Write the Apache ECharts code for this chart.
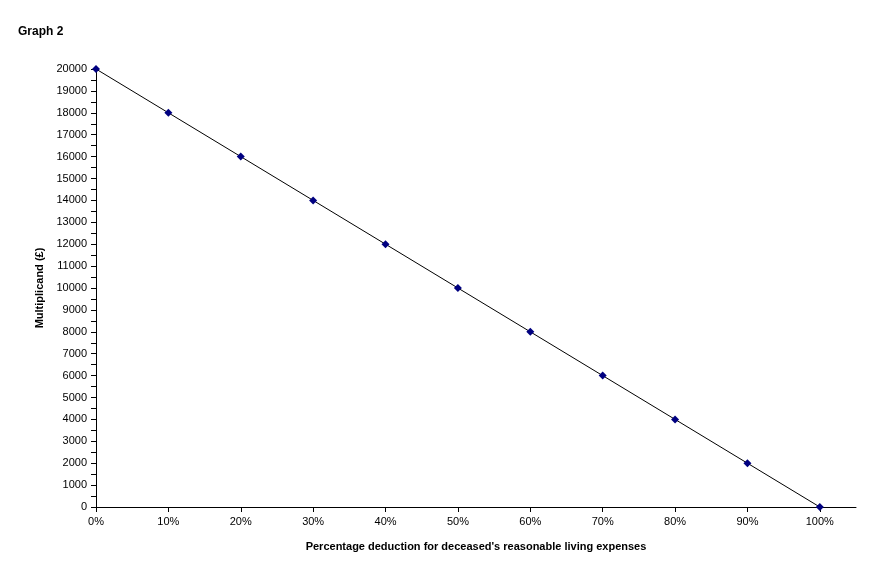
<!DOCTYPE html>
<html>
<head>
<meta charset="utf-8">
<script src="https://cdn.jsdelivr.net/npm/echarts@6/dist/echarts.min.js"></script>
<style>html,body{margin:0;padding:0;background:#fff;}#c{width:880px;height:564px;}</style>
</head>
<body>
<div id="c"></div>
<script>
const deductions = [0, 0.1, 0.2, 0.3, 0.4, 0.5, 0.6, 0.7, 0.8, 0.9, 1.0];
const multiplicand = [20000, 18000, 16000, 14000, 12000, 10000, 8000, 6000, 4000, 2000, 0];
const xTicks = [0, 0.1, 0.2, 0.3, 0.4, 0.5, 0.6, 0.7, 0.8, 0.9, 1.0];
const yLabels = [0,1000,2000,3000,4000,5000,6000,7000,8000,9000,10000,11000,12000,13000,14000,15000,16000,17000,18000,19000,20000];
const yTicks = [0,500,1000,1500,2000,2500,3000,3500,4000,4500,5000,5500,6000,6500,7000,7500,8000,8500,9000,9500,10000,10500,11000,11500,12000,12500,13000,13500,14000,14500,15000,15500,16000,16500,17000,17500,18000,18500,19000,19500,20000];

const font = 'Arial, "Liberation Sans", sans-serif';
const chart = echarts.init(document.getElementById('c'));
chart.setOption({
  animation: false,
  backgroundColor: '#fff',
  title: {
    text: 'Graph 2', left: 13, top: 21,
    textStyle: { fontFamily: font, fontSize: 12, fontWeight: 'bold', color: '#000' }
  },
  grid: { left: 96, right: 24, top: 69, bottom: 57 },
  xAxis: {
    type: 'value', min: 0, max: 1.05,
    name: "Percentage deduction for deceased's reasonable living expenses",
    nameLocation: 'middle', nameGap: 34,
    nameTextStyle: { fontFamily: font, fontSize: 11, fontWeight: 'bold', color: '#000' },
    axisLine: { show: true, onZero: false, lineStyle: { color: '#000', width: 1 } },
    axisTick: { show: true, length: 5, lineStyle: { color: '#000' }, customValues: xTicks },
    axisLabel: { fontFamily: font, fontSize: 11, color: '#000', margin: 9,
      customValues: xTicks, formatter: v => Math.round(v * 100) + '%' },
    splitLine: { show: false }
  },
  yAxis: {
    type: 'value', min: 0, max: 20000,
    name: 'Multiplicand (£)',
    nameLocation: 'middle', nameGap: 44, nameRotate: 90,
    nameTextStyle: { fontFamily: font, fontSize: 11, fontWeight: 'bold', color: '#000', padding: [0, 0, 0, 0] },
    axisLine: { show: true, lineStyle: { color: '#000', width: 1 } },
    axisTick: { show: true, length: 5, lineStyle: { color: '#000' }, customValues: yTicks },
    axisLabel: { fontFamily: font, fontSize: 11, color: '#000', margin: 9, customValues: yLabels,
      formatter: v => String(v) },
    splitLine: { show: false }
  },
  series: [{
    type: 'line',
    data: deductions.map((d, i) => [d, multiplicand[i]]),
    symbol: 'diamond', symbolSize: 8,
    itemStyle: { color: '#000080' },
    lineStyle: { color: '#000', width: 1 }
  }]
});
</script>
</body>
</html>
